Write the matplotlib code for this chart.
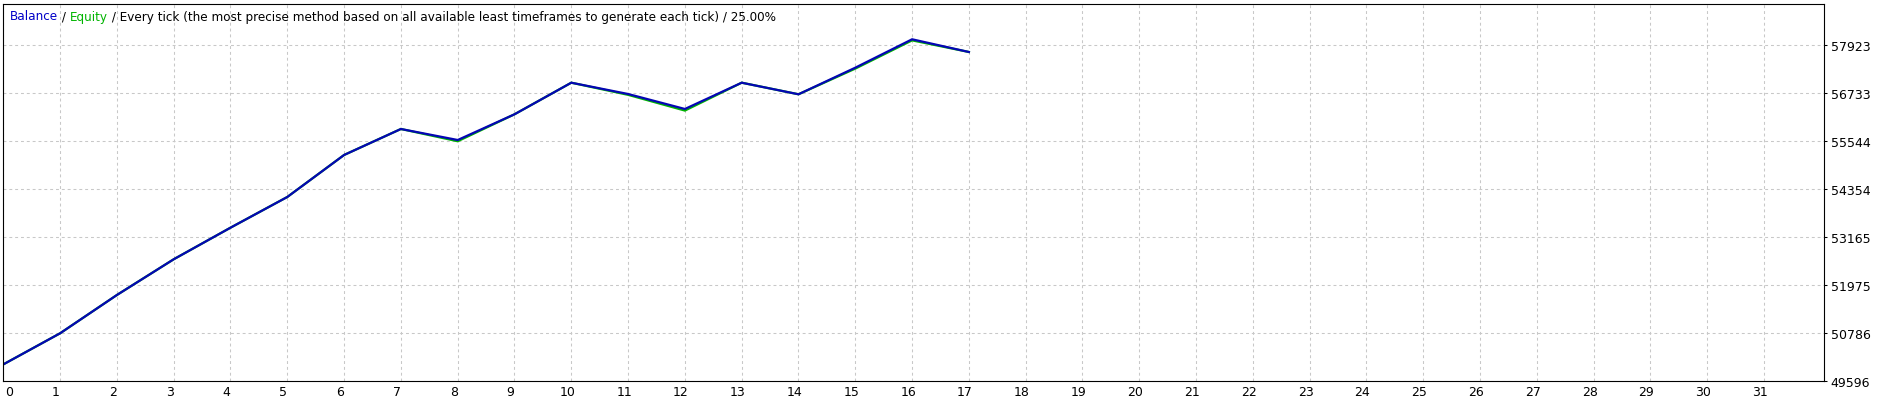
import matplotlib
matplotlib.use("Agg")
from matplotlib import pyplot as plt
from matplotlib.transforms import ScaledTranslation

# trade number vs account value
trades = list(range(18))
balance = [50000, 50771, 51720, 52605, 53388, 54149, 55190, 55834, 55561,
           56198, 56981, 56701, 56330, 56981, 56694, 57353, 58057, 57742]
equity = [50000, 50771, 51720, 52605, 53388, 54149, 55190, 55834, 55530,
          56198, 56981, 56680, 56290, 56981, 56694, 57330, 58030, 57742]

x_ticks = list(range(32))
y_ticks = [49596, 50786, 51975, 53165, 54354, 55544, 56733, 57923]

title_parts = [
    ("Balance", "#0000c8"),
    (" / ", "black"),
    ("Equity", "#00b400"),
    (" / Every tick (the most precise method based on all available least "
     "timeframes to generate each tick) / 25.00%", "black"),
]

W, H = 1889, 404
fig = plt.figure(figsize=(W / 100, H / 100), dpi=100)
left, right, top, bottom = 3.3, 1824.3, 4.3, 380.7
ax = fig.add_axes([left / W, (H - bottom) / H, (right - left) / W, (bottom - top) / H])

ax.plot(trades, equity, color="#00b400", lw=1.6, solid_joinstyle="miter")
ax.plot(trades, balance, color="#0505b4", lw=1.6, solid_joinstyle="miter")

ax.set_xlim(0, 32.06)
ax.set_ylim(49596, 58924)
ax.set_xticks(x_ticks)
ax.set_yticks(y_ticks)
ax.set_yticklabels([str(v) for v in y_ticks])
ax.yaxis.tick_right()
ax.tick_params(axis="y", direction="out", length=2.2, width=0.75, labelsize=9, pad=2.5)
ax.tick_params(axis="x", length=0, labelsize=9, pad=4.0)
ax.grid(True, color="#c8c8c8", lw=0.75, linestyle=(0, (2.8, 2.8)))
ax.set_axisbelow(True)
for spine in ax.spines.values():
    spine.set_linewidth(0.8)

# MT4 puts the x labels a little left of the grid lines
shift = ScaledTranslation(-4 / 100, 0, fig.dpi_scale_trans)
for i, lab in enumerate(ax.get_xticklabels()):
    if i == 0:
        lab.set_horizontalalignment("left")
        lab.set_transform(lab.get_transform() + ScaledTranslation(1.5 / 100, 0, fig.dpi_scale_trans))
    else:
        lab.set_transform(lab.get_transform() + shift)
down = ScaledTranslation(0, -1.5 / 100, fig.dpi_scale_trans)
for lab in ax.get_yticklabels():
    lab.set_transform(lab.get_transform() + down)

# coloured header text, pieces laid out one after another on one baseline
renderer = fig.canvas.get_renderer()
x = 10
for text, color in title_parts:
    t = fig.text(x / W, 1 - 20.5 / H, text, color=color, fontsize=8.65,
                 va="baseline", ha="left")
    x = t.get_window_extent(renderer).x1

fig.savefig("out.png", dpi=100)
